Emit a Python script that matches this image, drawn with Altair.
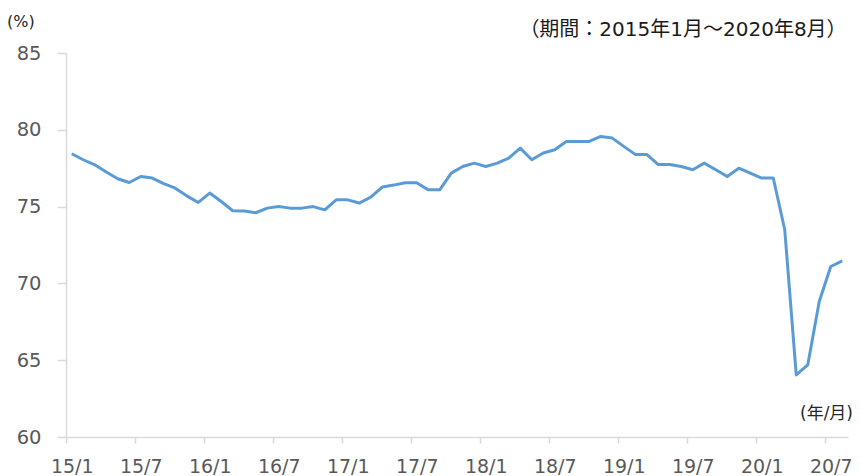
import json
import altair as alt
import pandas as pd

# monthly values, 2015/1 .. 2020/8 (%)
values = [
    78.44, 78.05, 77.72, 77.25, 76.81, 76.57, 76.96, 76.86, 76.50, 76.20, 75.70, 75.27,
    75.88, 75.33, 74.73, 74.71, 74.60, 74.90, 75.00, 74.90, 74.90, 75.00, 74.79, 75.44,
    75.44, 75.23, 75.62, 76.27, 76.40, 76.55, 76.55, 76.09, 76.09, 77.18, 77.61, 77.83,
    77.61, 77.83, 78.16, 78.81, 78.05, 78.49, 78.70, 79.24, 79.24, 79.24, 79.57, 79.46,
    78.92, 78.40, 78.40, 77.74, 77.74, 77.61, 77.40, 77.83, 77.40, 76.96, 77.50, 77.18,
    76.86, 76.86, 73.49, 64.04, 64.69, 68.82, 71.10, 71.47,
]
month_index = list(range(len(values)))
tick_labels = ["15/1", "15/7", "16/1", "16/7", "17/1", "17/7",
               "18/1", "18/7", "19/1", "19/7", "20/1", "20/7"]
y_ticks = [60, 65, 70, 75, 80, 85]
unit_label = ["(%)"]
xunit_label = ["(年/月)"]
period_label = ["（期間：2015年1月～2020年8月）"]

df = pd.DataFrame({"i": month_index, "v": values})

PL, PT = 58, 45
W, H = 782, 384
tick_pos = [k * 6 - 0.5 for k in range(len(tick_labels))]
label_expr = json.dumps(tick_labels) + "[round((datum.value + 0.5) / 6)]"
band = W / len(values)

line = alt.Chart(df).mark_line(color="#5B9BD5", strokeWidth=3, strokeJoin="round").encode(
    x=alt.X("i:Q", scale=alt.Scale(domain=[-0.5, len(values) - 0.5], nice=False, zero=False),
            axis=alt.Axis(values=tick_pos, labelExpr=label_expr, labelOffset=band / 2,
                          labelFlush=False, labelOverlap=False, grid=False, title=None,
                          domainColor="#d9d9d9", domainWidth=1.5, tickColor="#d9d9d9",
                          tickWidth=1.5, tickSize=6, labelFontSize=19, labelColor="#595959",
                          labelFont="DejaVu Sans", labelPadding=14)),
    y=alt.Y("v:Q", scale=alt.Scale(domain=[60, 85], nice=False, zero=False),
            axis=alt.Axis(values=y_ticks, grid=False, title=None,
                          domainColor="#d9d9d9", domainWidth=1.5, tickColor="#d9d9d9",
                          tickWidth=1.5, tickSize=9, labelFontSize=19.5, labelColor="#595959",
                          labelFont="DejaVu Sans", labelPadding=16)),
)

font = "DejaVu Sans, Noto Sans CJK JP"

def px(page_x):
    return page_x - 8 - PL

def py(page_y):
    return page_y - 8 - PT

unit = alt.Chart(pd.DataFrame({"t": unit_label})).mark_text(
    align="left", baseline="middle", fontSize=16, font=font, color="#262626"
).encode(text="t:N", x=alt.value(px(7)), y=alt.value(py(21.5)))

xunit = alt.Chart(pd.DataFrame({"t": xunit_label})).mark_text(
    align="right", baseline="middle", fontSize=17, font=font, color="#262626"
).encode(text="t:N", x=alt.value(px(853)), y=alt.value(py(414)))

period = alt.Chart(pd.DataFrame({"t": period_label})).mark_text(
    align="center", baseline="middle", fontSize=20, font=font, color="#1a1a1a"
).encode(text="t:N", x=alt.value(px(683)), y=alt.value(py(30)))

chart = alt.layer(line, unit, xunit, period).properties(
    width=W, height=H,
    autosize=alt.AutoSizeParams(type="none"),
    padding={"left": PL, "top": PT, "right": 845 - PL - W, "bottom": 39},
).configure_view(stroke=None)

chart.save("out.html", embed_options={"renderer": "svg", "actions": False})
